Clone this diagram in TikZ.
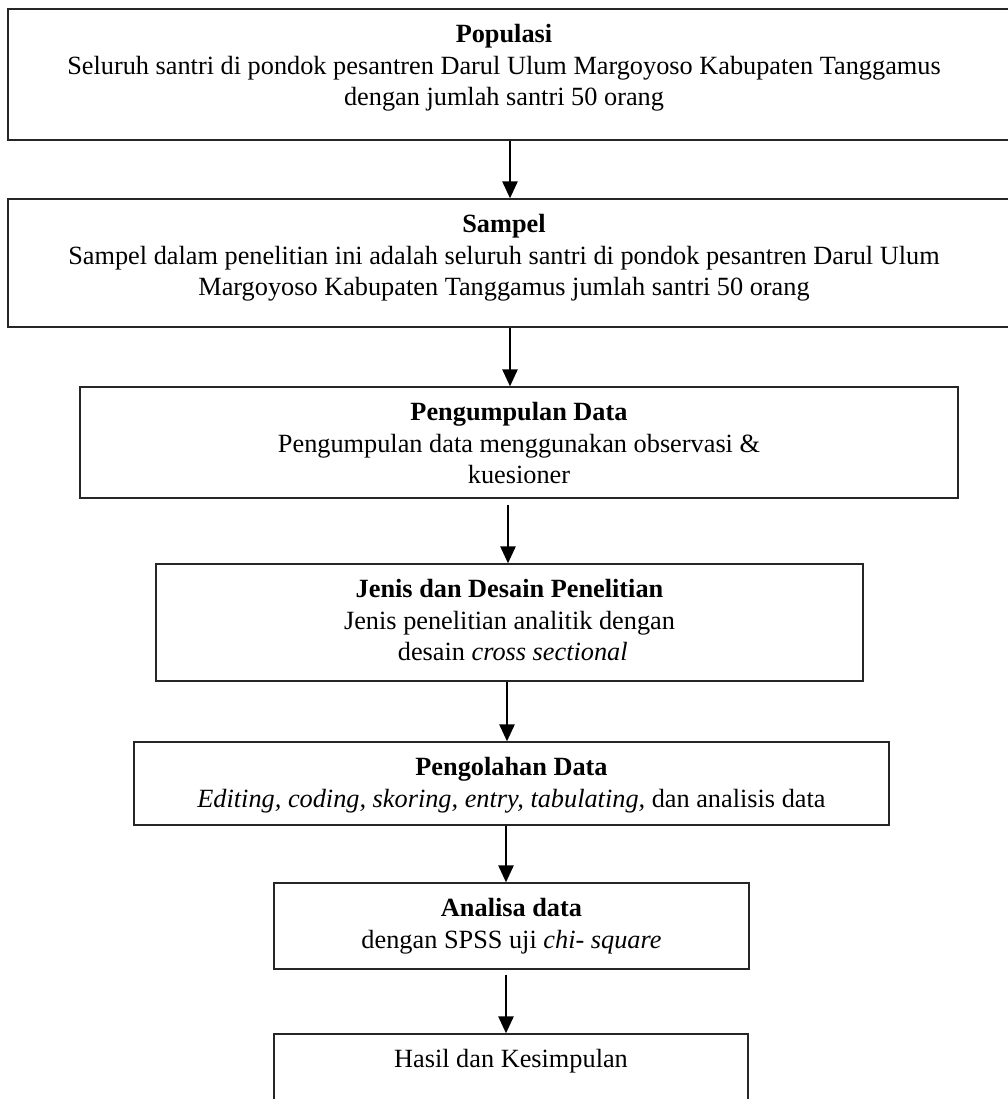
\documentclass[tikz,border=0pt]{standalone}
\usepackage{fontspec}
\setmainfont{Liberation Serif}
\usetikzlibrary{arrows.meta}
\begin{document}
\begin{tikzpicture}[x=1pt,y=-1pt,
  boxx/.style={draw=black!85,line width=1.3pt,inner sep=0pt,rectangle},
  txt/.style={anchor=north,inner sep=0pt,align=center,font=\fontsize{26.3}{31.5}\selectfont},
  arr/.style={line width=2.6pt,-{Triangle[length=17pt,width=15pt]}}]
\useasboundingbox (0,0) rectangle (1007,1099);
% boxes
\node[boxx,minimum width=1006pt,minimum height=131pt] (b1) at (511,74.5) {};
\node[boxx,minimum width=1006pt,minimum height=128pt] (b2) at (511,263) {};
\node[boxx,minimum width=878pt,minimum height=111pt] (b3) at (519,442.5) {};
\node[boxx,minimum width=707pt,minimum height=117pt] (b4) at (509.5,622.5) {};
\node[boxx,minimum width=755pt,minimum height=83pt] (b5) at (511.5,783.5) {};
\node[boxx,minimum width=475pt,minimum height=86pt] (b6) at (511.5,926) {};
\node[boxx,minimum width=474pt,minimum height=70pt] (b7) at (511,1069) {};
% texts
\node[txt] (t1) at ([yshift=-16pt]b1.north -| 504,0) {\textbf{Populasi}\\Seluruh santri di pondok pesantren Darul Ulum Margoyoso Kabupaten Tanggamus\\dengan jumlah santri 50 orang};
\node[txt] (t2) at ([yshift=-16pt]b2.north -| 504,0) {\textbf{Sampel}\\Sampel dalam penelitian ini adalah seluruh santri di pondok pesantren Darul Ulum\\Margoyoso Kabupaten Tanggamus jumlah santri 50 orang};
\node[txt] (t3) at ([yshift=-16pt]b3.north) {\textbf{Pengumpulan Data}\\Pengumpulan data menggunakan observasi \&\\kuesioner};
\node[txt] (t4) at ([yshift=-16pt]b4.north) {\textbf{Jenis dan Desain Penelitian}\\Jenis penelitian analitik dengan\\\ desain \textit{cross sectional}};
\node[txt] (t5) at ([yshift=-16pt]b5.north) {\textbf{Pengolahan Data}\\\textit{Editing, coding, skoring, entry, tabulating,} dan analisis data};
\node[txt] (t6) at ([yshift=-16pt]b6.north) {\textbf{Analisa data}\\dengan SPSS uji \textit{chi- square}};
\node[txt] (t7) at ([yshift=-16pt]b7.north) {Hasil dan Kesimpulan};
% arrow axes
\coordinate (a1) at (510,0);
\coordinate (a2) at (510,0);
\coordinate (a3) at (508,0);
\coordinate (a4) at (507,0);
\coordinate (a5) at (506,0);
\coordinate (a6) at (506,0);
\draw[arr] (b1.south -| a1) -- (b2.north -| a1);
\draw[arr] (b2.south -| a2) -- (b3.north -| a2);
\draw[arr,shorten <=6pt] (b3.south -| a3) -- (b4.north -| a3);
\draw[arr] (b4.south -| a4) -- (b5.north -| a4);
\draw[arr] (b5.south -| a5) -- (b6.north -| a5);
\draw[arr,shorten <=5pt] (b6.south -| a6) -- (b7.north -| a6);
\end{tikzpicture}
\end{document}
